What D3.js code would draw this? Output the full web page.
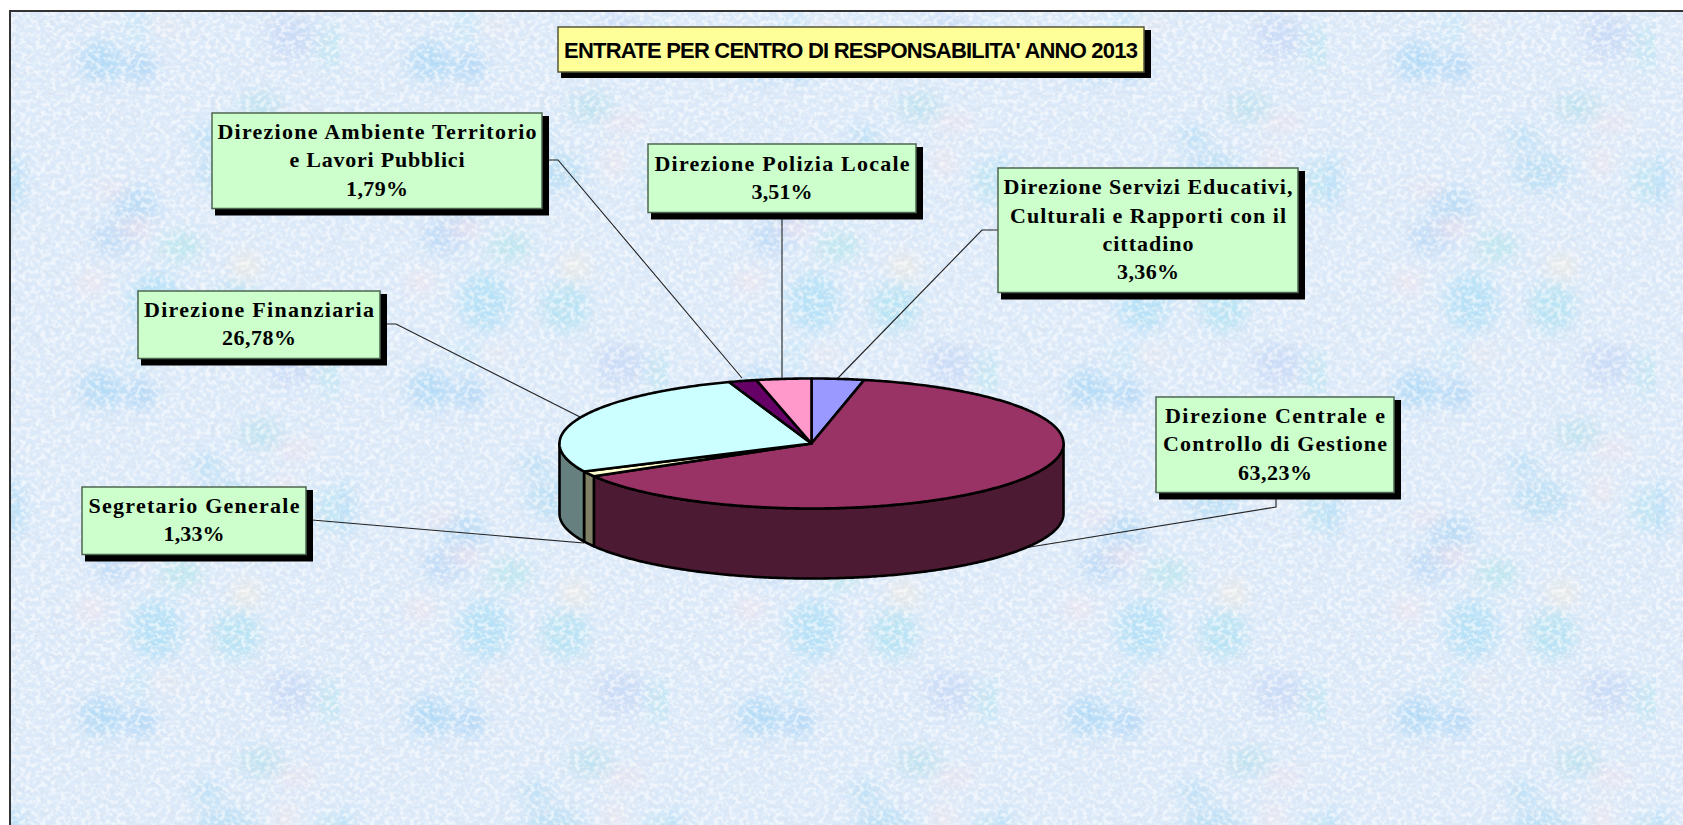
<!DOCTYPE html>
<html><head><meta charset="utf-8">
<style>html,body{margin:0;padding:0;background:#fff;overflow:hidden}svg{display:block}</style>
<script src="https://cdn.jsdelivr.net/npm/d3@7"></script>
</head><body>
<svg id="c" width="1683" height="825"></svg>
<script>
// ---- data ----
const chartTitle = "ENTRATE PER CENTRO DI RESPONSABILITA' ANNO 2013";
const categories = ["Direzione Servizi Educativi, Culturali e Rapporti con il cittadino","Direzione Centrale e Controllo di Gestione","Segretario Generale","Direzione Finanziaria","Direzione Ambiente Territorio e Lavori Pubblici","Direzione Polizia Locale"];
const values = [3.36,63.23,1.33,26.78,1.79,3.51];
const valueLabels = ["3,36%","63,23%","1,33%","26,78%","1,79%","3,51%"];
const labelLines = [
 ["Direzione Servizi Educativi,","Culturali e Rapporti con il","cittadino"],
 ["Direzione Centrale e","Controllo di Gestione"],
 ["Segretario Generale"],
 ["Direzione Finanziaria"],
 ["Direzione Ambiente Territorio","e Lavori Pubblici"],
 ["Direzione Polizia Locale"]
];
// ---- style & layout (separate from the data) ----
const topColors = ["#9999ff","#993366","#ffffcc","#ccffff","#660066","#ff99cc"];
const sideColors = ["#4d4d80","#4d1a33","#808066","#668080","#330033","#804d66"];
const pieGeom = {cx:811.5, cy:443.5, rx:252, ry:65, depth:70};
const boxes = [
 {x0:998, x1:1298, y0:168, y1:292.5, w:[289,276,91,62], leader:[[998,230],[982,230],[838,378]]},
 {x0:1156,x1:1394, y0:397, y1:492.5, w:[220,224,74], leader:[[1276,492],[1276,507],[1024,548]]},
 {x0:82,  x1:306,  y0:487, y1:554.5, w:[211,61], leader:[[306,520],[312,520],[584,543]]},
 {x0:138, x1:380,  y0:291, y1:358.5, w:[230,74], leader:[[380,324],[396,324],[580,417]]},
 {x0:212, x1:542,  y0:113, y1:208.5, w:[319,175,62], leader:[[542,160],[558,160],[742,378]]},
 {x0:648, x1:916,  y0:144, y1:212.5, w:[255,61], leader:[[782,212],[782,378]]}
];
const tileBlobs = [
 [90,50,22,20,"#b4dbf7"],[130,55,14,14,"#aed6f6"],[280,25,24,22,"#cbdcf7"],[320,35,14,22,"#c4e6f4"],
 [125,195,22,20,"#b8dcf7"],[145,290,26,30,"#b6e1f7"],[215,160,30,20,"#bee0f5"],[320,170,14,22,"#bbe4f4"],
 [0,170,14,30,"#bae0f7"],[225,295,24,24,"#b8e3f4"],[105,225,24,16,"#c0dbf7"],[170,235,22,14,"#bce6ef"],
 [195,125,16,10,"#b8dff6"],[125,15,12,20,"#cae8f9"],[250,95,24,14,"#c0e2f0"],
 [100,178,18,5,"#efe2ec"],[285,110,20,6,"#f1e3ed"],[125,215,16,8,"#eee0ec"],[80,270,14,12,"#ece6f0"],
 [155,15,16,4,"#eee6ea"],[235,255,14,14,"#ebeae6"],[275,150,8,16,"#eee6ed"]
];

const svg = d3.select("#c");
const defs = svg.append("defs");
const noiseA = defs.append("filter").attr("id","noiseLight").attr("x",0).attr("y",0).attr("width","100%").attr("height","100%");
noiseA.append("feTurbulence").attr("type","fractalNoise").attr("baseFrequency","0.2 0.24").attr("numOctaves",2).attr("seed",7);
noiseA.append("feColorMatrix").attr("values","0 0 0 0 1  0 0 0 0 1  0 0 0 0 1  4 0 0 0 -1.75");
noiseA.append("feGaussianBlur").attr("stdDeviation",0.7);
const noiseB = defs.append("filter").attr("id","noiseDark").attr("x",0).attr("y",0).attr("width","100%").attr("height","100%");
noiseB.append("feTurbulence").attr("type","fractalNoise").attr("baseFrequency","0.14").attr("numOctaves",2).attr("seed",23);
noiseB.append("feColorMatrix").attr("values","0 0 0 0 .66  0 0 0 0 .73  0 0 0 0 .84  0 4 0 0 -2");
noiseB.append("feGaussianBlur").attr("stdDeviation",0.8);
defs.append("filter").attr("id","soft").attr("x","-80%").attr("y","-80%").attr("width","260%").attr("height","260%")
  .append("feGaussianBlur").attr("stdDeviation",8);

const tile = defs.append("pattern").attr("id","tile").attr("patternUnits","userSpaceOnUse")
  .attr("x",11).attr("y",12).attr("width",329).attr("height",327.5);
tile.append("rect").attr("width",329).attr("height",327.5).attr("fill","#dbe9f9");
tile.append("g").attr("filter","url(#soft)").selectAll("ellipse").data(tileBlobs).join("ellipse")
  .attr("cx",d=>d[0]).attr("cy",d=>d[1]).attr("rx",d=>d[2]).attr("ry",d=>d[3]).attr("fill",d=>d[4]);
tile.append("rect").attr("width",329).attr("height",327.5).attr("filter","url(#noiseDark)").attr("opacity",.45);
tile.append("rect").attr("width",329).attr("height",327.5).attr("filter","url(#noiseLight)").attr("opacity",.6);

// frame runs off the right and bottom of the page
svg.append("rect").attr("x",10).attr("y",11).attr("width",1720).attr("height",860)
  .attr("fill","url(#tile)").attr("stroke","#333").attr("stroke-width",2);

// ---- pie ----
const {cx,cy,rx,ry,depth} = pieGeom;
const xS = d3.scaleLinear([-1,1],[cx-rx,cx+rx]);
const yS = d3.scaleLinear([-1,1],[cy+ry,cy-ry]);
const pie = d3.pie().sort(null).value(d=>d)(values);
const line = d3.line();
const arcPts = (a0,a1,dy=0)=>{
  const n = Math.max(2,Math.ceil((a1-a0)/0.01));
  return d3.range(n+1).map(i=>{const a=a0+(a1-a0)*i/n;return [xS(Math.sin(a)),yS(Math.cos(a))+dy];});
};

// leaders
svg.append("g").selectAll("path").data(boxes).join("path")
  .attr("d",d=>line(d.leader)).attr("fill","none").attr("stroke","#222").attr("stroke-width",1.1);

// side walls (front half only)
const walls = pie.map((d,i)=>({a0:Math.max(d.startAngle,Math.PI/2),a1:Math.min(d.endAngle,Math.PI*1.5),i})).filter(d=>d.a1>d.a0);
svg.append("g").selectAll("path").data(walls).join("path")
  .attr("d",d=>line(arcPts(d.a0,d.a1).concat(arcPts(d.a0,d.a1,depth).reverse()))+"Z")
  .attr("fill",d=>sideColors[d.i]).attr("stroke","#000").attr("stroke-width",2.6).attr("stroke-linejoin","round");

// top slices
svg.append("g").selectAll("path").data(pie).join("path")
  .attr("d",d=>line([[xS(0),yS(0)]].concat(arcPts(d.startAngle,d.endAngle)))+"Z")
  .attr("fill",(d,i)=>topColors[i]).attr("stroke","#000").attr("stroke-width",2.6).attr("stroke-linejoin","round");

// ---- labels ----
const lab = svg.append("g").selectAll("g").data(boxes).join("g");
lab.append("rect").attr("x",d=>d.x0+3).attr("y",d=>d.y0+3).attr("width",d=>d.x1-d.x0+4).attr("height",d=>d.y1-d.y0+4).attr("fill","#000");
lab.append("rect").attr("x",d=>d.x0).attr("y",d=>d.y0).attr("width",d=>d.x1-d.x0).attr("height",d=>d.y1-d.y0)
  .attr("fill","#ccffcc").attr("stroke","#4d6650").attr("stroke-width",1.5);
lab.each(function(b,i){
  const lines = labelLines[i].concat([valueLabels[i]]);
  const mid = (b.x0+b.x1)/2, cyb=(b.y0+b.y1)/2;
  d3.select(this).selectAll("text").data(lines).join("text")
    .attr("x",mid).attr("y",(d,k)=>cyb+6.5+(k-(lines.length-1)/2)*28.3)
    .attr("text-anchor","middle").attr("font-family","'Liberation Serif'").attr("font-weight","bold")
    .attr("font-size",22).attr("fill","#000")
    .attr("textLength",(d,k)=>b.w[k]).attr("lengthAdjust","spacing").text(d=>d);
});

// ---- title ----
const t = svg.append("g");
t.append("rect").attr("x",561).attr("y",30).attr("width",590).attr("height",48).attr("fill","#000");
t.append("rect").attr("x",558).attr("y",27).attr("width",586).attr("height",45).attr("fill","#ffff99").attr("stroke","#55553a").attr("stroke-width",1.5);
t.append("text").attr("x",851).attr("y",57.5).attr("text-anchor","middle").attr("font-family","'Liberation Sans'")
  .attr("font-weight","bold").attr("font-size",22).attr("textLength",574).attr("lengthAdjust","spacing").text(chartTitle);
</script>
</body></html>
